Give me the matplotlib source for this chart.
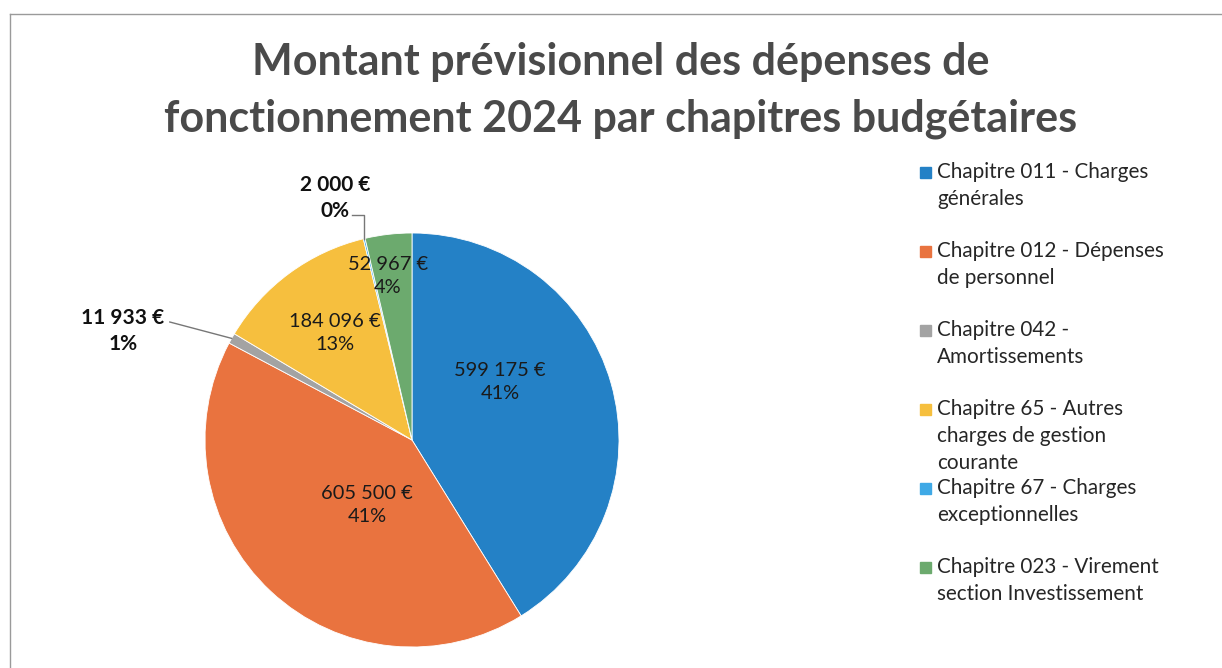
import matplotlib
matplotlib.use("Agg")
import matplotlib.pyplot as plt
from matplotlib.lines import Line2D
from matplotlib.patches import Rectangle
import numpy as np

plt.rcParams['font.family'] = ['Lato', 'DejaVu Sans']

# data
chapitres = [
    "Chapitre 011 - Charges\ngénérales",
    "Chapitre 012 - Dépenses\nde personnel",
    "Chapitre 042 -\nAmortissements",
    "Chapitre 65 - Autres\ncharges de gestion\ncourante",
    "Chapitre 67 - Charges\nexceptionnelles",
    "Chapitre 023 - Virement\nsection Investissement",
]
montants = [599175, 605500, 11933, 184096, 2000, 52967]
pourcents = ["41%", "41%", "1%", "13%", "0%", "4%"]
couleurs = ["#2481c6", "#e9733f", "#a3a3a3", "#f6bf3e", "#3fa9e6", "#6caa6e"]

W, H = 1222, 668
fig = plt.figure(figsize=(W / 100, H / 100), dpi=100)

# pie area (pixels): centre (412, 440), radius 207
cx, cy, r = 412, 440, 207
ax = fig.add_axes([(cx - r) / W, (H - cy - r) / H, 2 * r / W, 2 * r / H])
wedges, _ = ax.pie(montants, colors=couleurs, startangle=90, counterclock=False,
                   radius=1, wedgeprops=dict(linewidth=0.6, edgecolor="white"))
ax.set_xlim(-1, 1)
ax.set_ylim(-1, 1)
ax.set_aspect("equal")
ax.axis("off")

total = sum(montants)

# label positions relative to pie (in radius units), Excel "best fit"-ish
pos = [(0.425, 0.28), (-0.217, -0.314), (-1.396, 0.527),
       (-0.372, 0.517), (-0.372, 1.169), (-0.116, 0.792)]
outside = [False, False, True, False, True, False]

for i, v in enumerate(montants):
    x, y = pos[i]
    txt = f"{v:,}".replace(",", " ") + " €\n" + pourcents[i]
    ax.text(x, y, txt, ha="center", va="center",
            fontsize=15 if outside[i] else 14.4,
            fontweight="bold" if outside[i] else "normal",
            color="#111111" if outside[i] else "#1a1a1a",
            linespacing=1.4, clip_on=False)

# leader lines for small slices
cum = np.cumsum([0] + montants) / total * 360
for i, (x0, y0) in [(2, (-1.17, 0.57)), (4, (-0.29, 1.085))]:
    mid = 90 - (cum[i] + cum[i + 1]) / 2
    ex, ey = np.cos(np.radians(mid)), np.sin(np.radians(mid))
    if i == 4:
        ax.plot([x0, ex, ex], [y0, y0, ey], color="#777777", lw=1, clip_on=False)
    else:
        ax.plot([x0, ex], [y0, ey], color="#777777", lw=1, clip_on=False)

# title
fig.text(621 / W, 1 - 62 / H, "Montant prévisionnel des dépenses de",
         ha="center", va="center", fontsize=31, fontweight="bold", color="#4a4a4a")
fig.text(621 / W, 1 - 119 / H, "fonctionnement 2024 par chapitres budgétaires",
         ha="center", va="center", fontsize=31, fontweight="bold", color="#4a4a4a")

# legend (fixed slots like Excel)
for i, (lab, c) in enumerate(zip(chapitres, couleurs)):
    ytop = 172 + 79 * i
    fig.patches.append(Rectangle((920 / W, 1 - (ytop + 6) / H), 11 / W, 11 / H,
                                 transform=fig.transFigure, color=c))
    fig.text(937 / W, 1 - (ytop - 10) / H, lab, ha="left", va="top",
             fontsize=14.9, color="#262626", linespacing=1.45)

# chart frame
fig.add_artist(Line2D([10 / W, 1], [1 - 14 / H, 1 - 14 / H], transform=fig.transFigure,
                      color="#9a9a9a", lw=1))
fig.add_artist(Line2D([10 / W, 10 / W], [0, 1 - 14 / H], transform=fig.transFigure,
                      color="#9a9a9a", lw=1))

fig.savefig("out.png", dpi=100)
